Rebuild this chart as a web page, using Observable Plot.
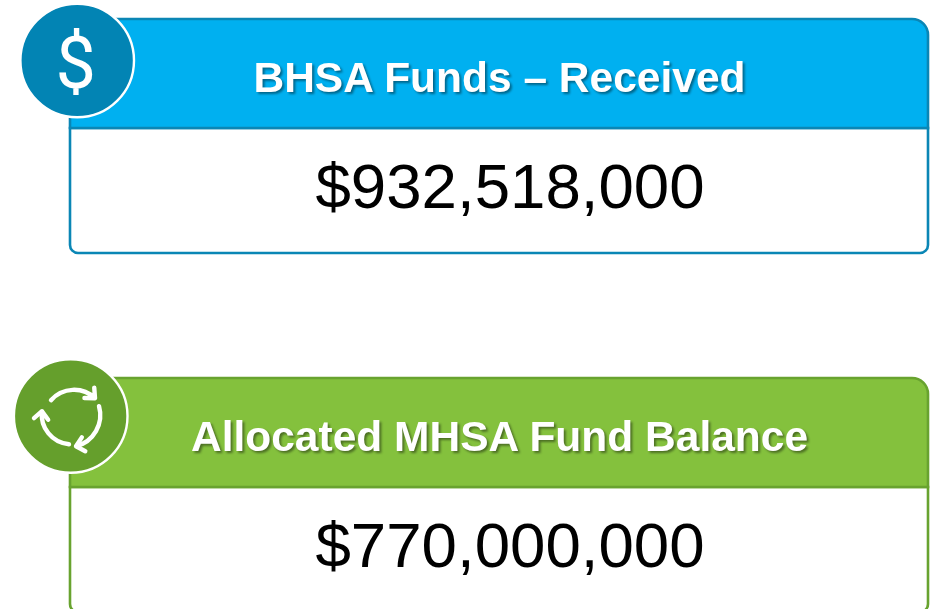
<!DOCTYPE html>
<html><head><meta charset="utf-8">
<script src="https://cdn.jsdelivr.net/npm/d3@7"></script>
<script src="https://cdn.jsdelivr.net/npm/@observablehq/plot@0.6"></script>
<style>
html,body{margin:0;padding:0;background:#fff;overflow:hidden}
svg{display:block}
</style></head><body><div id="chart"></div>
<script>
// Data
const titles = ["BHSA Funds – Received", "Allocated MHSA Fund Balance"];
const amounts = [932518000, 770000000];
const fills = ["#00b0f0", "#84c13d"];
const edges = ["#0a86b5", "#68a32f"];
const badges = ["#0284b4", "#659f2c"];

// Layout (page geometry, not data)
const W = 936, H = 609;
const tops = [19, 378], left = 70, right = 928;
const headH = 109, cardH = 234;
const cx = [76.7, 70.2], cy = [60, 415.5];
const idx = d3.range(titles.length);
const fmt = d3.format("$,");

// cycle icon: arc ends relative to badge centre
const ic = [69.5, 415.7];
const arcs = [[-19,-16,25,-18],[29,-10,6,30],[-1,28,-28,-5]];

const plot = Plot.plot({
  width: W, height: H, margin: 0,
  x: {type:"linear", domain:[0,W], range:[0,W], axis:null},
  y: {type:"linear", domain:[0,H], range:[0,H], axis:null},
  marks: [
    Plot.rect(idx, {x1:()=>left, x2:()=>right, y1:i=>tops[i]+headH, y2:i=>tops[i]+cardH,
      fill:"#fff", stroke:i=>edges[i], strokeWidth:2.6, ry2:8}),
    Plot.rect(idx, {x1:()=>left, x2:()=>right, y1:i=>tops[i], y2:i=>tops[i]+headH,
      fill:i=>fills[i], stroke:i=>edges[i], strokeWidth:2.6, ry1:16}),
    Plot.dot(idx, {x:i=>cx[i], y:i=>cy[i], r:56.8, fill:i=>badges[i], stroke:"#fff", strokeWidth:2.4}),
    Plot.text(["$"], {x:()=>cx[0]-1.5, y:()=>cy[0]+4, text:d=>d, fontSize:72, fontWeight:400, fill:"#fff", fontFamily:"Roboto"}),
    Plot.arrow(arcs, {x1:a=>ic[0]+a[0], y1:a=>ic[1]+a[1], x2:a=>ic[0]+a[2], y2:a=>ic[1]+a[3],
      bend:46, stroke:"#fff", strokeWidth:4.4, headLength:3.6, headAngle:85, strokeLinecap:"round"}),
    Plot.text(idx, {x:()=>499, y:i=>tops[i]+59, text:i=>titles[i], fontSize:42.5, fontWeight:"bold",
      fill:"#fff", fontFamily:"Liberation Sans", imageFilter:"drop-shadow(2px 2px 1.2px rgba(0,0,0,.42))"}),
    Plot.text(idx, {x:()=>509.5, y:i=>tops[i]+168, text:i=>fmt(amounts[i]), fontSize:63.6,
      fill:"#000", fontFamily:"Liberation Sans"})
  ]
});
document.getElementById("chart").append(plot);
</script></body></html>
